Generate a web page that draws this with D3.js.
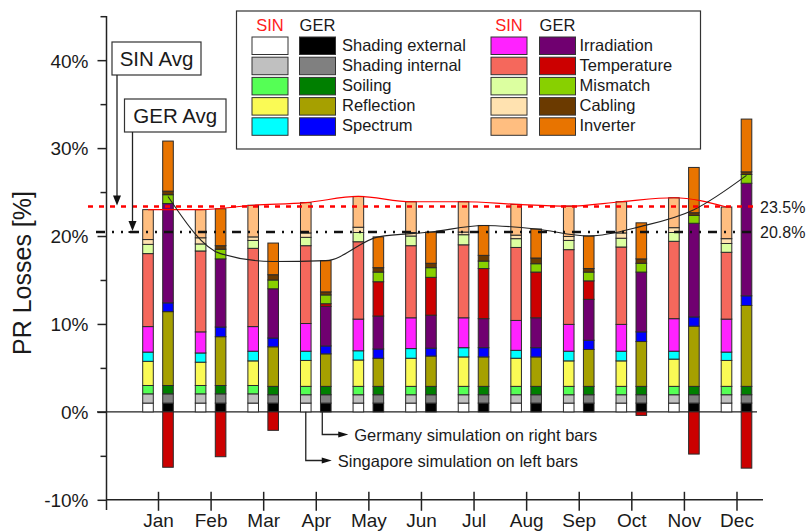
<!DOCTYPE html>
<html><head><meta charset="utf-8">
<script src="https://cdn.jsdelivr.net/npm/d3@7"></script>
<style>
body{margin:0;background:#fff;}
svg{display:block;font-family:Arial,"Liberation Sans",sans-serif;}
</style>
</head><body>
<svg id="c" width="809" height="531"></svg>
<script>
// ---------------- DATA ----------------
const months = ["Jan","Feb","Mar","Apr","May","Jun","Jul","Aug","Sep","Oct","Nov","Dec"];
const components = ["Shading external","Shading internal","Soiling","Reflection","Spectrum",
                    "Irradiation","Temperature","Mismatch","Cabling","Inverter"];
const sinColors = ["#FFFFFF","#C0C0C0","#55FF55","#FAFA55","#00FFFF","#FF22FF","#F5685C","#DCFFA0","#FFE2B0","#FFBE80"];
const gerColors = ["#000000","#808080","#007F00","#A6A000","#0000FF","#700070","#CC0000","#88D000","#6B3A00","#E87400"];

// Singapore (left bars), PR losses in %
const sinShadingExt = [1.0,1.0,1.0,1.0,1.0,1.0,1.0,1.0,1.0,1.0,1.0,1.0];
const sinShadingInt = [1.05,1.05,1.05,0.95,0.95,0.95,0.95,0.95,0.95,0.95,0.95,0.95];
const sinSoiling    = [0.95,0.95,0.95,0.95,0.95,0.95,0.95,0.95,0.95,0.95,0.95,0.95];
const sinReflection = [2.75,2.65,2.8,2.95,3.0,3.2,3.35,3.2,2.9,2.9,3.1,2.95];
const sinSpectrum   = [1.05,1.05,1.1,1.05,1.05,1.1,1.05,0.9,1.1,1.1,0.9,0.95];
const sinIrradiation= [2.9,2.4,2.8,3.15,3.6,3.5,3.4,3.4,3.05,3.05,3.7,3.75];
const sinTemperature= [8.3,9.2,8.9,8.85,8.8,8.2,8.3,8.3,8.5,8.8,8.8,7.6];
const sinMismatch   = [1.05,0.8,0.9,0.95,1.05,1.1,1.15,1.0,1.05,1.0,1.0,1.0];
const sinCabling    = [0.55,0.7,0.4,0.5,0.6,0.4,0.3,0.4,0.45,0.6,0.55,0.55];
const sinInverter   = [3.4,3.2,3.6,3.45,3.5,3.5,3.45,3.5,3.45,3.55,3.4,3.6];

// Germany (right bars)
const gerShadingExt = [1.0,1.0,1.0,1.0,1.0,1.0,1.0,1.0,1.0,1.0,1.0,1.0];
const gerShadingInt = [1.05,1.05,0.95,0.95,0.95,0.95,0.95,0.95,0.95,0.95,0.95,0.95];
const gerSoiling    = [0.95,0.95,0.95,0.95,0.95,0.95,0.95,0.95,0.95,0.95,0.95,0.95];
const gerReflection = [8.4,5.55,4.5,3.7,3.2,3.45,3.35,3.35,4.2,5.1,6.85,9.2];
const gerSpectrum   = [1.0,1.1,1.0,0.9,1.05,0.9,1.05,1.05,1.05,1.1,1.05,1.1];
const gerIrradiation= [11.3,7.75,5.6,4.5,3.75,3.75,3.3,3.4,4.65,6.8,10.65,12.8];
const gerTemperature= [-6.3,-5.1,-2.1,0.3,3.9,4.3,5.7,5.2,2.1,-0.4,-4.8,-6.4];
const gerMismatch   = [1.0,1.1,1.0,1.0,1.1,1.1,0.85,0.95,1.0,1.0,0.9,1.0];
const gerCabling    = [0.4,0.4,0.6,0.35,0.5,0.5,0.65,0.65,0.4,0.5,0.3,0.3];
const gerInverter   = [5.7,4.2,3.6,3.55,3.5,3.55,3.4,3.3,3.7,4.1,5.15,6.0];

const yTicks = [-10,0,10,20,30,40];
const yMinorTicks = [-5,5,15,25,35,45];
const avgValues = [23.35, 20.45];          // SIN avg, GER avg (drawn positions)
const avgLabels = ["23.5%","20.8%"];

// ---------------- BUILD ----------------
const sinSeries = [sinShadingExt,sinShadingInt,sinSoiling,sinReflection,sinSpectrum,sinIrradiation,sinTemperature,sinMismatch,sinCabling,sinInverter];
const gerSeries = [gerShadingExt,gerShadingInt,gerSoiling,gerReflection,gerSpectrum,gerIrradiation,gerTemperature,gerMismatch,gerCabling,gerInverter];
function rows(series){ return months.map((m,i)=>{const r={month:i}; series.forEach((s,k)=>r[k]=s[i]); return r;}); }
const keys = d3.range(components.length);
const stack = d3.stack().keys(keys).offset(d3.stackOffsetDiverging);
const sinStack = stack(rows(sinSeries));
const gerStack = stack(rows(gerSeries));
const sinTotal = months.map((m,i)=>d3.sum(sinSeries,s=>s[i]));
const gerNet = months.map((m,i)=>d3.sum(gerSeries,s=>s[i]));

const svg = d3.select("#c");
const x = d3.scaleLinear().domain([0,11]).range([158,736.5]);
const y = d3.scaleLinear().domain([-10,45]).range([499.8,16.2]);
const axisX = 106.5, barW = 10.6, off = 10;
const ink = "#1a1a1a";

// zero line
svg.append("line").attr("x1",97).attr("x2",757).attr("y1",y(0)).attr("y2",y(0)).attr("stroke","#222").attr("stroke-width",1.3);

// bars
function drawBars(st, colors, dx){
  const g = svg.append("g");
  st.forEach((layer,k)=>{
    g.selectAll(null).data(layer).join("rect")
      .attr("x",d=>x(d.data.month)+dx-barW/2)
      .attr("y",d=>y(Math.max(d[0],d[1])))
      .attr("width",barW)
      .attr("height",d=>Math.abs(y(d[0])-y(d[1])))
      .attr("fill",colors[k])
      .attr("stroke","#2a2a2a").attr("stroke-width",1);
  });
}
drawBars(sinStack, sinColors, -off);
drawBars(gerStack, gerColors, off);

// total lines
svg.append("path").datum(sinTotal)
  .attr("d", d3.line().x((d,i)=>x(i)-off).y(d=>y(d)).curve(d3.curveMonotoneX))
  .attr("fill","none").attr("stroke","#FF0000").attr("stroke-width",1.2);
svg.append("path").datum(gerNet)
  .attr("d", d3.line().x((d,i)=>x(i)+off).y(d=>y(d)).curve(d3.curveMonotoneX))
  .attr("fill","none").attr("stroke","#222").attr("stroke-width",1.1);

// average lines
svg.append("line").attr("x1",88).attr("x2",757).attr("y1",y(avgValues[0])).attr("y2",y(avgValues[0]))
  .attr("stroke","#FF0000").attr("stroke-width",2.6).attr("stroke-dasharray","5,6");
svg.append("line").attr("x1",96).attr("x2",757).attr("y1",y(avgValues[1])).attr("y2",y(avgValues[1]))
  .attr("stroke","#111").attr("stroke-width",2.4).attr("stroke-dasharray","9,7,2,7,2,7");
svg.append("text").attr("x",760).attr("y",y(avgValues[0])+6).attr("font-size",16).attr("fill",ink).text(avgLabels[0]);
svg.append("text").attr("x",760).attr("y",y(avgValues[1])+6).attr("font-size",16).attr("fill",ink).text(avgLabels[1]);

// y axis
svg.append("line").attr("x1",axisX).attr("x2",axisX).attr("y1",16).attr("y2",510).attr("stroke","#222").attr("stroke-width",1.5);
const yAx = svg.append("g").attr("transform",`translate(${axisX},0)`)
  .call(d3.axisLeft(y).tickValues(yTicks).tickSize(9).tickSizeOuter(0).tickFormat(d=>d+"%"));
yAx.select(".domain").remove();
yAx.selectAll(".tick line").attr("stroke","#222").attr("stroke-width",1.5);
yAx.selectAll(".tick text").attr("font-size",19).attr("fill",ink).attr("x",-18).attr("dy","0.36em").attr("font-family","Arial, Liberation Sans, sans-serif");
const yMin = svg.append("g").attr("transform",`translate(${axisX},0)`)
  .call(d3.axisLeft(y).tickValues(yMinorTicks).tickSize(6).tickSizeOuter(0).tickFormat(""));
yMin.select(".domain").remove();
yMin.selectAll(".tick line").attr("stroke","#222").attr("stroke-width",1.5);

// x axis
const xAxisY = y(-10);
svg.append("line").attr("x1",axisX).attr("x2",763).attr("y1",xAxisY).attr("y2",xAxisY).attr("stroke","#222").attr("stroke-width",1.5);
const xAx = svg.append("g").attr("transform",`translate(0,${xAxisY})`)
  .call(d3.axisBottom(x).tickValues(d3.range(12)).tickSizeOuter(0).tickFormat(i=>months[i]));
xAx.select(".domain").remove();
xAx.selectAll(".tick line").attr("y1",-8).attr("y2",11).attr("stroke","#222").attr("stroke-width",1.5);
xAx.selectAll(".tick text").attr("font-size",19).attr("fill",ink).attr("y",27).attr("dy",0).attr("font-family","Arial, Liberation Sans, sans-serif");

// y label
svg.append("text").attr("transform","translate(31,273) rotate(-90)").attr("text-anchor","middle")
  .attr("font-size",25).attr("fill",ink).text("PR Losses [%]");

// legend
const lg = svg.append("g");
lg.append("rect").attr("x",236.5).attr("y",11).attr("width",464).attr("height",138)
  .attr("fill","#fff").attr("stroke","#333").attr("stroke-width",1.2);
const legCols = [{sinX:252,gerX:299.5,textX:342,items:[0,1,2,3,4]},{sinX:491,gerX:539.5,textX:579.5,items:[5,6,7,8,9]}];
legCols.forEach(c=>{
  lg.append("text").attr("x",c.sinX+18).attr("y",31).attr("text-anchor","middle").attr("font-size",16.5).attr("fill","#FF2020").text("SIN");
  lg.append("text").attr("x",c.gerX+18).attr("y",31).attr("text-anchor","middle").attr("font-size",16.5).attr("fill",ink).text("GER");
  c.items.forEach((k,r)=>{
    const yy = 37 + r*20.2;
    lg.append("rect").attr("x",c.sinX).attr("y",yy).attr("width",36).attr("height",17.5).attr("fill",sinColors[k]).attr("stroke","#333").attr("stroke-width",1);
    lg.append("rect").attr("x",c.gerX).attr("y",yy).attr("width",36).attr("height",17.5).attr("fill",gerColors[k]).attr("stroke","#333").attr("stroke-width",1);
    lg.append("text").attr("x",c.textX).attr("y",yy+13.5).attr("font-size",16.5).attr("fill",ink).text(components[k]);
  });
});

// avg callout boxes
function callout(bx,by,bw,bh,label,lineX,tipY,bar){
  svg.append("rect").attr("x",bx).attr("y",by).attr("width",bw).attr("height",bh).attr("fill","#fff").attr("stroke","#333").attr("stroke-width",1.2);
  svg.append("text").attr("x",bx+bw/2).attr("y",by+24).attr("text-anchor","middle").attr("font-size",20.5).attr("fill",ink).text(label);
  svg.append("line").attr("x1",lineX).attr("x2",lineX).attr("y1",by+bh).attr("y2",tipY-4).attr("stroke","#222").attr("stroke-width",1.3);
  svg.append("path").attr("d",`M${lineX-4},${tipY-11}L${lineX+4},${tipY-11}L${lineX},${tipY-1}Z`).attr("fill","#111");
  if(bar) svg.append("line").attr("x1",lineX-4).attr("x2",lineX+5).attr("y1",tipY).attr("y2",tipY).attr("stroke","#111").attr("stroke-width",2);
}
callout(112,42,89,33,"SIN Avg",117,y(avgValues[0]),false);
callout(124.5,99,101.5,33,"GER Avg",132.5,y(avgValues[1]),true);

// bottom annotations
function note(x0,yEnd,label){
  svg.append("path").attr("d",`M${x0},${y(0)}V${yEnd}H${x0+17}`).attr("fill","none").attr("stroke","#222").attr("stroke-width",1.3);
  svg.append("path").attr("d",`M${x0+16},${yEnd-3}L${x0+26},${yEnd}L${x0+16},${yEnd+3}Z`).attr("fill","#111");
  svg.append("text").attr("x",x0+32).attr("y",yEnd+6).attr("font-size",16.5).attr("fill",ink).text(label);
}
note(x(3)+off-3.5,434.5,"Germany simulation on right bars");
note(x(3)-off,460.5,"Singapore simulation on left bars");
</script>
</body></html>
